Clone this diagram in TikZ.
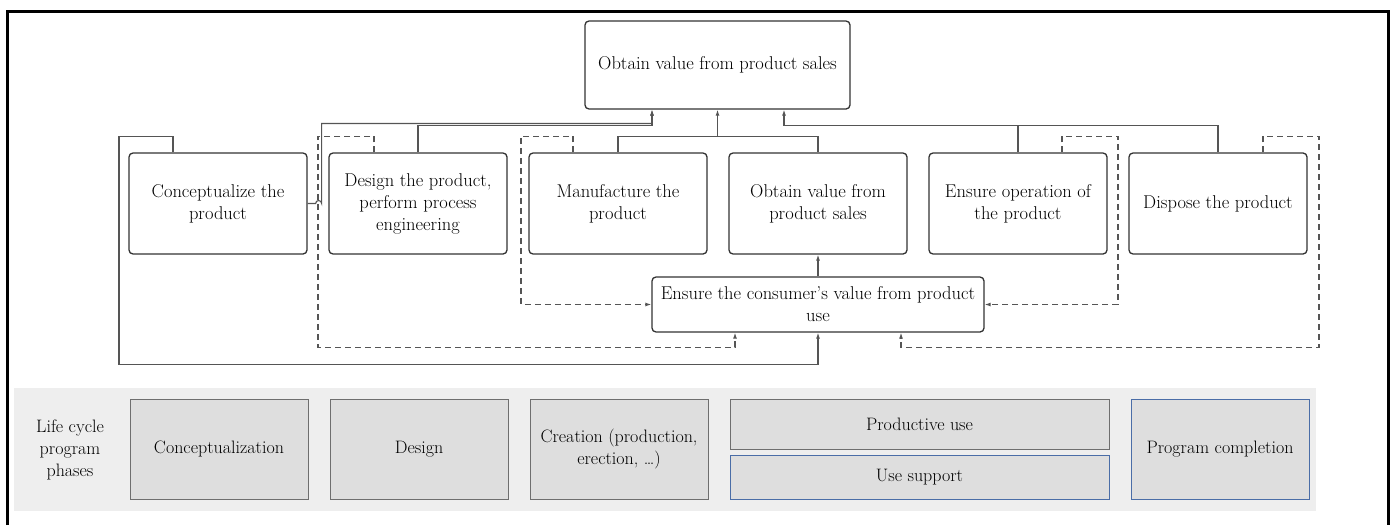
\documentclass[tikz,border=0pt]{standalone}
\usepackage{fontspec}
\setmainfont{Latin Modern Roman}
\usetikzlibrary{arrows.meta,calc}
\definecolor{boxc}{HTML}{333333}
\definecolor{linec}{HTML}{555555}
\definecolor{bgc}{HTML}{EEEEEE}
\definecolor{phfill}{HTML}{DEDEDE}
\definecolor{phgray}{HTML}{6E6E6E}
\definecolor{phblue}{HTML}{4A6DA7}
\newcommand\mainfs{\rmfamily\fontsize{18.5}{22}\selectfont}
\newcommand\phfs{\rmfamily\fontsize{18}{22}\selectfont}
\tikzset{
  box/.style={draw=boxc, line width=1.3pt, rounded corners=4pt, minimum width=178pt,
    minimum height=101pt, align=center, inner sep=0pt, font=\mainfs, text=black},
  conn/.style={draw=linec, line width=1.1pt},
  arr/.style={conn, -{Latex[length=6pt,width=4pt]}},
  dsh/.style={conn, dash pattern=on 6pt off 4pt},
  darr/.style={dsh, -{Latex[length=6pt,width=4pt]}},
  phase/.style={draw=phgray, fill=phfill, line width=1pt, minimum width=178pt,
    minimum height=100pt, align=center, inner sep=0pt, font=\phfs, text=black},
  phaseb/.style={phase, draw=phblue},
}
\begin{document}
\begin{tikzpicture}[x=1pt,y=-1pt]
\useasboundingbox (0,0) rectangle (1392,525);
% frame
\draw[line width=3pt, black] (7,525) -- (7,11) -- (1388,11) -- (1388,525);

% top node
\node[box, minimum width=265pt, minimum height=88pt] (top) at (717.5,65) {Obtain value from product sales};

% row nodes
\node[box] (concept) at (218,203.5) {Conceptualize the\\product};
\node[box] (design) at (418,203.5) {Design the product,\\perform process\\engineering};
\node[box] (manuf) at (618,203.5) {Manufacture the\\product};
\node[box] (obtain) at (818,203.5) {Obtain value from\\product sales};
\node[box] (ensop) at (1018,203.5) {Ensure operation of\\the product};
\node[box] (dispose) at (1218,203.5) {Dispose the product};

% consumer node
\node[box, minimum width=332pt, minimum height=55pt] (cons) at (818,304.5) {Ensure the consumer’s value from product\\use};

% solid connectors
\draw[arr] (concept.east) -- ++(8,0) arc[start angle=180,end angle=0,radius=3pt] -- ++(0,-80) -| ([xshift=-65.5pt]top.south);
\draw[arr] (design.north) -- ++(0,-27) -| ([xshift=-65.5pt]top.south);
\draw[conn] (manuf.north) -- ++(0,-16) coordinate (bus1) -| (obtain.north);
\draw[arr] (top.south |- bus1) -- (top.south);
\draw[arr] (dispose.north) -- ++(0,-27) -| ([xshift=66.5pt]top.south);
\draw[conn] (ensop.north) -- ++(0,-27);
\draw[arr] ([xshift=-45pt]concept.north) -- ++(0,-16) -- ++(-54,0) -- ++(0,228) -| (cons.south);
\draw[arr] (cons.north) -- (obtain.south);

% dashed connectors
\draw[darr] ([xshift=-44pt]design.north) -- ++(0,-16) -- ++(-56,0) -- ++(0,211) -| ([xshift=-83pt]cons.south);
\draw[darr] ([xshift=-45pt]manuf.north) -- ++(0,-16) -- ++(-52,0) |- (cons.west);
\draw[darr] ([xshift=44pt]ensop.north) -- ++(0,-16) -- ++(56,0) |- (cons.east);
\draw[darr] ([xshift=45pt]dispose.north) -- ++(0,-16) -- ++(56,0) -- ++(0,211) -| ([xshift=83pt]cons.south);

% bottom panel
\fill[bgc] (14,388) rectangle (1316,511);
\node[font=\phfs, align=center, inner sep=0pt] (lbl) at (70,450) {Life cycle\\program\\phases};
\node[phase] (p1) at (219,449) {Conceptualization};
\node[phase] (p2) at (419,449) {Design};
\node[phase] (p3) at (619,449) {Creation (production,\\erection, …)};
\node[phase, minimum width=379pt, minimum height=50pt] (p4) at (919.5,424) {Productive use};
\node[phaseb, minimum width=379pt, minimum height=44pt] (p5) at (919.5,477) {Use support};
\node[phaseb] (p6) at (1220,449) {Program completion};
\end{tikzpicture}
\end{document}
